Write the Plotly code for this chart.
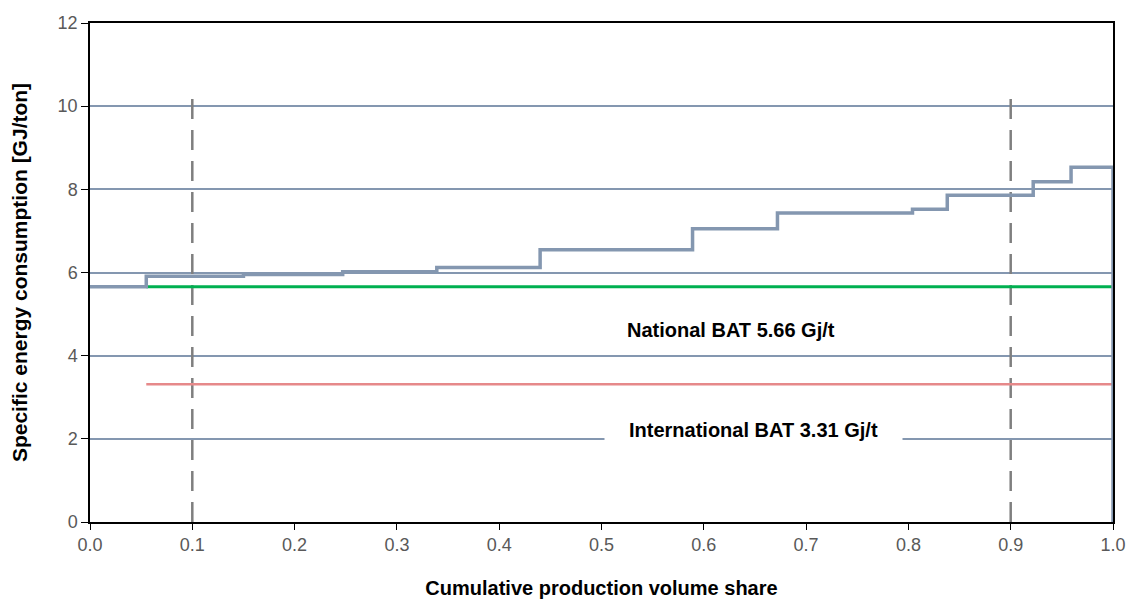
import plotly.graph_objects as go

# Step curve: left edges of each producer block and its specific energy consumption
step_edges = [0.0, 0.055, 0.15, 0.247, 0.339, 0.44, 0.589, 0.672, 0.804, 0.838, 0.922, 0.959, 1.0]
step_values = [5.66, 5.91, 5.95, 6.02, 6.12, 6.55, 7.05, 7.43, 7.52, 7.86, 8.18, 8.53, 8.53]

national_bat = 5.66
international_bat = 3.31
bat_x_range = [0.055, 1.0]

ref_shares = [0.1, 0.9]
ref_top = 10.25

x_ticks = [0.0, 0.1, 0.2, 0.3, 0.4, 0.5, 0.6, 0.7, 0.8, 0.9, 1.0]
y_ticks = [0, 2, 4, 6, 8, 10, 12]

FONT = "Liberation Sans, Arial, sans-serif"

fig = go.Figure()

for s in ref_shares:
    fig.add_trace(go.Scatter(x=[s, s], y=[0, ref_top], mode="lines",
                             line=dict(color="#7f7f7f", width=2.5, dash="20px,11px"),
                             showlegend=False, hoverinfo="skip"))

fig.add_trace(go.Scatter(x=bat_x_range, y=[national_bat, national_bat], mode="lines",
                         line=dict(color="#00b050", width=3), showlegend=False))
fig.add_trace(go.Scatter(x=bat_x_range, y=[international_bat, international_bat], mode="lines",
                         line=dict(color="#e6898a", width=2.5), showlegend=False))

fig.add_trace(go.Scatter(x=step_edges + [step_edges[-1]], y=step_values + [0], mode="lines",
                         line=dict(color="#8497b0", width=3.5, shape="hv"), showlegend=False))

fig.add_annotation(x=0.627, y=4.62, text="<b>National BAT 5.66 Gj/t</b>", showarrow=False,
                   font=dict(size=20, color="#000000", family=FONT))
fig.add_annotation(x=0.649, y=2.21, text="<b>International BAT 3.31 Gj/t</b>", showarrow=False,
                   bgcolor="white", borderpad=24,
                   font=dict(size=20, color="#000000", family=FONT))

fig.update_layout(
    width=1133, height=601,
    margin=dict(l=90, r=20, t=23, b=79),
    plot_bgcolor="white", paper_bgcolor="white",
    font=dict(family=FONT, color="#595959", size=18),
)
fig.update_xaxes(range=[0, 1], tickvals=x_ticks, ticktext=[f"{v:.1f}" for v in x_ticks],
                 showgrid=False, zeroline=False, showline=True, linecolor="black", linewidth=1.5,
                 mirror=True, ticks="outside", ticklen=6, tickcolor="black", layer="below traces",
                 automargin=False,
                 title=dict(text="<b>Cumulative production volume share</b>",
                            font=dict(size=20, color="#000000"), standoff=27))
fig.update_yaxes(range=[0, 12], tickvals=y_ticks, showgrid=True, gridcolor="#8497b0", gridwidth=1.5,
                 zeroline=False, showline=True, linecolor="black", linewidth=1.5,
                 mirror=True, ticks="outside", ticklen=7, tickcolor="black", layer="below traces",
                 automargin=False,
                 title=dict(text="<b>Specific energy consumption [GJ/ton]</b>",
                            font=dict(size=21, color="#000000"), standoff=24))

fig.write_html("out.html", config={"displayModeBar": False},
               post_script="document.body.style.margin='0px';")
